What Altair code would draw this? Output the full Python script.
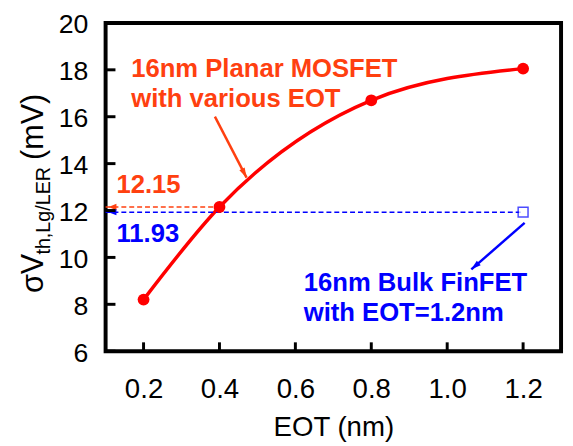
import math
import altair as alt
import pandas as pd

# ---------------- data ----------------
eot = [0.2, 0.4, 0.8, 1.2]
sigma_planar = [8.2, 12.15, 16.7, 18.05]
finfet_eot = [1.2]
finfet_sigma = [11.93]

x_ticks = [0.2, 0.4, 0.6, 0.8, 1.0, 1.2]
y_ticks = [6, 8, 10, 12, 14, 16, 18, 20]
x_domain = [0.1, 1.3]
y_domain = [6, 20]

planar_text = ["16nm Planar MOSFET", "with various EOT"]
planar_text_x = [0.1675, 0.1675]
planar_text_y = [17.69, 16.43]

finfet_text = ["16nm Bulk FinFET", "with EOT=1.2nm"]
finfet_text_x = [0.622, 0.622]
finfet_text_y = [8.565, 7.303]

value_text = ["12.15", "11.93"]
value_text_x = [0.1286, 0.1286]
value_text_y = [12.727, 10.667]

# arrows (start -> tip)
planar_arrow = [0.388, 16.006, 0.4714, 13.40]
finfet_arrow = [1.204, 11.47, 1.0636, 9.49]

# ---------------- style ----------------
W, H = 462, 333
FONT = "Liberation Sans"
ORANGE = "#FF4010"
RED = "#FF0000"
BLUE = "#0000FF"

xs = alt.Scale(domain=x_domain, nice=False, zero=False)
ys = alt.Scale(domain=y_domain, nice=False, zero=False)

xaxis = alt.Axis(
    values=x_ticks, format=".1f", title="EOT (nm)", domain=False, ticks=False,
    grid=False, labelFontSize=28, labelFont=FONT, labelColor="black",
    labelPadding=25, titleFontSize=28, titleFont=FONT, titleFontWeight="normal",
    titleColor="black", titlePadding=11)
yaxis = alt.Axis(
    values=y_ticks, format="d", title=None, domain=False, ticks=False,
    grid=False, labelFontSize=27, labelFont=FONT, labelColor="black",
    labelPadding=18, labelBaseline="alphabetic", labelOffset=10)


def X(field="x"):
    return alt.X(f"{field}:Q", scale=xs, axis=xaxis)


def Y(field="y"):
    return alt.Y(f"{field}:Q", scale=ys, axis=yaxis)


def arrow_angle(a):
    dx = (a[2] - a[0]) * W / (x_domain[1] - x_domain[0])
    dy = -(a[3] - a[1]) * H / (y_domain[1] - y_domain[0])
    return math.degrees(math.atan2(dx, -dy)) % 360


HEAD = "M0,0L0.3,1L-0.3,1Z"
HEAD_H = "M0,0L0.4,1L-0.4,1Z"

df_planar = pd.DataFrame({"x": eot, "y": sigma_planar})
df_finfet = pd.DataFrame({"x": finfet_eot, "y": finfet_sigma})

curve = alt.Chart(df_planar).mark_line(
    color=RED, strokeWidth=3.5, interpolate="monotone"
).encode(x=X(), y=Y())
points = alt.Chart(df_planar).mark_circle(color=RED, size=144, opacity=1).encode(x=X(), y=Y())

square = alt.Chart(df_finfet).mark_point(
    shape="square", size=100, color=BLUE, strokeWidth=1.5, fill="white", filled=False
).encode(x=X(), y=Y())

# dashed reference lines to the axis
df_dash = pd.DataFrame({
    "x": [x_domain[0], x_domain[0]],
    "x2": [eot[1], finfet_eot[0]],
    "y": [sigma_planar[1], finfet_sigma[0]],
    "c": ["planar", "finfet"],
})
cscale = alt.Scale(domain=["planar", "finfet"], range=[ORANGE, BLUE])
dashes = alt.Chart(df_dash).mark_rule(strokeDash=[5, 3], strokeWidth=1.5).encode(
    x=X(), x2="x2:Q", y=Y(), color=alt.Color("c:N", scale=cscale, legend=None)
)
dash_heads = alt.Chart(df_dash).mark_point(
    shape=HEAD_H, size=256, filled=True, opacity=1, angle=270, xOffset=3
).encode(x=X(), y=Y(), color=alt.Color("c:N", scale=cscale, legend=None))

# diagonal arrows
df_arrows = pd.DataFrame({
    "x": [planar_arrow[0], finfet_arrow[0]],
    "y": [planar_arrow[1], finfet_arrow[1]],
    "x2": [planar_arrow[2], finfet_arrow[2]],
    "y2": [planar_arrow[3], finfet_arrow[3]],
    "a": [arrow_angle(planar_arrow), arrow_angle(finfet_arrow)],
    "c": ["planar", "finfet"],
})
arrows = alt.Chart(df_arrows).mark_rule(strokeWidth=2.5).encode(
    x=X(), y=Y(), x2="x2:Q", y2="y2:Q",
    color=alt.Color("c:N", scale=cscale, legend=None),
)
arrow_heads = alt.Chart(df_arrows).mark_point(
    shape=HEAD, size=400, filled=True, opacity=1
).encode(
    x=X("x2"), y=Y("y2"), angle=alt.Angle("a:Q", scale=None),
    color=alt.Color("c:N", scale=cscale, legend=None),
)

# annotation texts
df_text = pd.DataFrame({
    "t": planar_text + finfet_text + value_text,
    "x": planar_text_x + finfet_text_x + value_text_x,
    "y": planar_text_y + finfet_text_y + value_text_y,
    "c": ["planar", "planar", "finfet", "finfet", "planar", "finfet"],
})
texts = alt.Chart(df_text).mark_text(
    font=FONT, fontSize=26, fontWeight="bold", align="left", baseline="alphabetic"
).encode(x=X(), y=Y(), text="t:N", color=alt.Color("c:N", scale=cscale, legend=None))

# inward ticks
df_yt = pd.DataFrame({"y": y_ticks})
df_xt = pd.DataFrame({"x": x_ticks})
yticks = alt.Chart(df_yt).mark_rule(color="black", strokeWidth=3).encode(
    y=Y(), x=alt.value(0), x2=alt.value(10))
xticks = alt.Chart(df_xt).mark_rule(color="black", strokeWidth=3).encode(
    x=X(), y=alt.value(H), y2=alt.value(H - 9))

# y-axis title with subscript
title_parts = ["σV", "th,Lg/LER", "(mV)"]
df_t1 = pd.DataFrame({"t": [title_parts[0]]})
df_t2 = pd.DataFrame({"t": [title_parts[1]]})
df_t3 = pd.DataFrame({"t": [title_parts[2]]})
ytitle1 = alt.Chart(df_t1).mark_text(
    font=FONT, fontSize=31, angle=270, align="left", baseline="alphabetic", color="black"
).encode(text="t:N", x=alt.value(-63), y=alt.value(274))
ytitle2 = alt.Chart(df_t2).mark_text(
    font=FONT, fontSize=20, angle=270, align="left", baseline="alphabetic", color="black"
).encode(text="t:N", x=alt.value(-56), y=alt.value(235))
ytitle3 = alt.Chart(df_t3).mark_text(
    font=FONT, fontSize=31, angle=270, align="left", baseline="alphabetic", color="black"
).encode(text="t:N", x=alt.value(-63), y=alt.value(139))

chart = alt.layer(
    curve, dashes, dash_heads, arrows, arrow_heads, points, square, texts,
    yticks, xticks, ytitle1, ytitle2, ytitle3,
).properties(
    width=W, height=H,
    background="white",
    autosize=alt.AutoSizeParams(type="none"),
    padding={"left": 99, "top": 12, "right": 4, "bottom": 92},
).configure_view(
    stroke="black", strokeWidth=4
)

chart.save("out.html", embed_options={"renderer": "svg", "actions": False})
